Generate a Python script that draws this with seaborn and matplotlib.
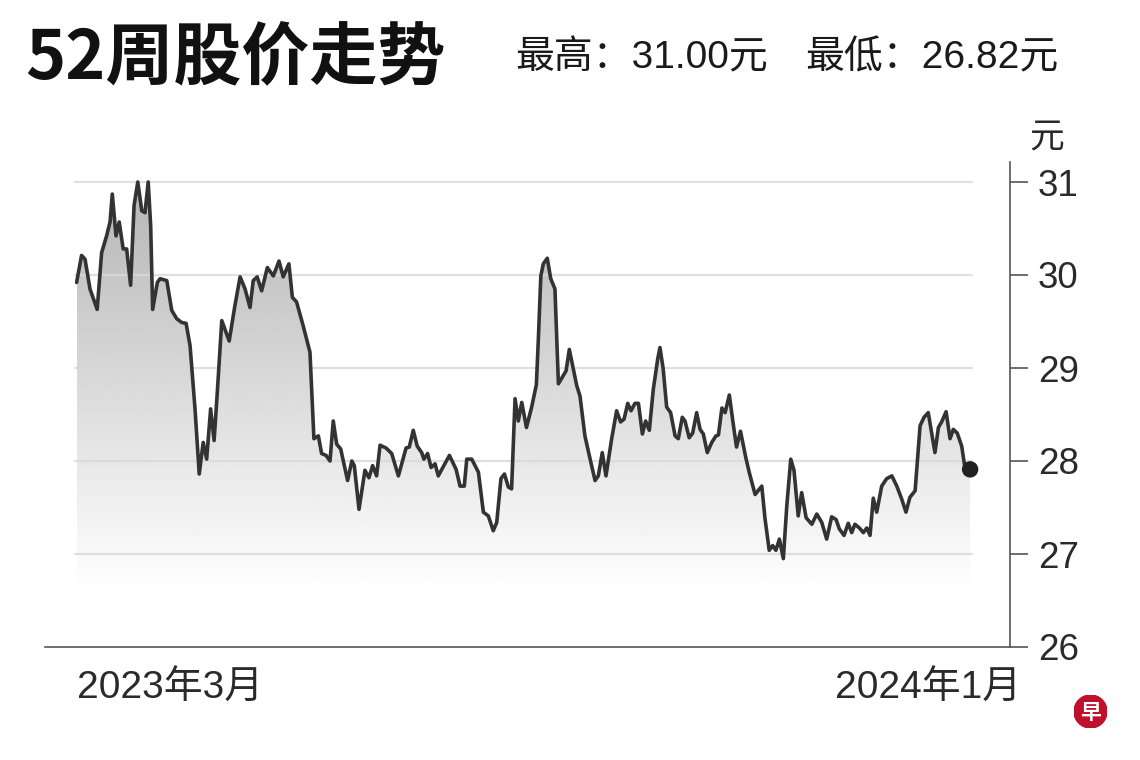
import numpy as np
import pandas as pd
import matplotlib
matplotlib.use("Agg")
import matplotlib.pyplot as plt
from matplotlib.patches import Circle
import seaborn as sns

# ---- data (days since 2023-01-01, closing price in 元) ----
days = [21.3, 23.3, 24.7, 26.7, 29.6, 31.4, 33.4, 34.8, 35.7, 37.2, 38.5, 40.1, 41.5, 43.1,
        44.5, 46.0, 47.6, 48.9, 50.2, 51.2, 52.0, 53.9, 55.0, 57.7, 59.7, 61.7, 63.7, 65.5,
        67.1, 69.1, 70.8, 72.4, 73.8, 75.4, 76.8, 78.1, 79.9, 82.9, 85.2, 87.3, 89.3, 91.3,
        92.6, 94.2, 96.0, 98.3, 100.7, 103.0, 104.7, 107.0, 108.4, 110.1, 112.8, 115.5,
        117.1, 118.9, 120.2, 122.0, 123.6, 124.9, 126.3, 127.9, 130.7, 132.4, 133.4, 135.3,
        137.7, 139.3, 140.8, 142.4, 143.8, 146.2, 148.5, 151.2, 154.3, 155.6, 157.2, 158.8,
        160.6, 161.5, 163.0, 164.4, 166.0, 167.3, 171.8, 174.5, 176.1, 177.8, 178.8, 180.8,
        183.5, 185.5, 187.5, 189.5, 190.9, 192.6, 194.0, 195.6, 196.9, 198.3, 199.6, 201.0,
        202.9, 205.0, 206.9, 207.7, 208.7, 209.7, 211.3, 212.7, 214.4, 215.8, 217.8, 218.9,
        220.2, 221.8, 223.2, 224.5, 226.5, 228.6, 230.6, 231.9, 233.5, 235.0, 237.3, 239.3,
        240.9, 242.3, 243.8, 245.1, 246.7, 248.1, 249.7, 251.0, 252.5, 254.1, 255.9, 256.8,
        258.1, 259.5, 261.1, 262.9, 264.2, 265.8, 266.9, 268.6, 270.0, 271.6, 273.0, 274.3,
        275.9, 277.7, 279.4, 280.4, 281.8, 283.1, 284.8, 286.2, 287.7, 289.3, 291.5, 292.9,
        295.2, 297.9, 299.2, 300.9, 302.3, 303.6, 305.0, 306.6, 308.0, 309.6, 310.9, 312.6,
        314.0, 315.8, 318.1, 320.1, 322.1, 324.1, 326.1, 327.9, 329.2, 331.1, 332.8, 334.2,
        335.5, 337.3, 338.9, 340.3, 341.6, 342.9, 344.3, 346.3, 348.3, 350.4, 352.4, 354.4,
        356.1, 357.7, 359.8, 361.8, 363.4, 365.1, 367.8, 369.2, 370.5, 372.3, 373.9, 375.2,
        376.8, 378.6, 379.9, 382.0]
prices = [29.92, 30.21, 30.17, 29.85, 29.63, 30.24, 30.42, 30.57, 30.87, 30.42, 30.57, 30.28,
          30.28, 29.89, 30.75, 31.00, 30.69, 30.67, 31.00, 30.53, 29.63, 29.92, 29.96, 29.94,
          29.62, 29.53, 29.49, 29.48, 29.24, 28.56, 27.86, 28.20, 28.02, 28.56, 28.22, 28.74,
          29.51, 29.29, 29.67, 29.98, 29.85, 29.65, 29.94, 29.98, 29.83, 30.08, 29.99, 30.15,
          29.98, 30.12, 29.76, 29.71, 29.45, 29.17, 28.24, 28.27, 28.08, 28.06, 28.00, 28.43,
          28.18, 28.13, 27.79, 28.00, 27.95, 27.48, 27.90, 27.82, 27.95, 27.84, 28.17, 28.14,
          28.08, 27.84, 28.14, 28.15, 28.33, 28.16, 28.09, 28.02, 28.08, 27.93, 27.97, 27.84,
          28.06, 27.91, 27.73, 27.73, 28.02, 28.02, 27.88, 27.45, 27.41, 27.25, 27.34, 27.81,
          27.86, 27.72, 27.70, 28.67, 28.43, 28.63, 28.36, 28.58, 28.82, 29.31, 29.99, 30.12,
          30.18, 29.96, 29.85, 28.83, 28.92, 28.97, 29.20, 28.99, 28.81, 28.70, 28.27, 28.02,
          27.79, 27.84, 28.09, 27.84, 28.24, 28.54, 28.42, 28.45, 28.62, 28.54, 28.62, 28.62,
          28.29, 28.43, 28.33, 28.77, 29.10, 29.22, 28.99, 28.58, 28.52, 28.27, 28.24, 28.47,
          28.43, 28.25, 28.30, 28.52, 28.34, 28.29, 28.09, 28.20, 28.27, 28.28, 28.57, 28.52,
          28.71, 28.43, 28.15, 28.32, 28.03, 27.87, 27.64, 27.73, 27.38, 27.04, 27.09, 27.04,
          27.16, 26.95, 27.52, 28.02, 27.90, 27.41, 27.66, 27.39, 27.32, 27.43, 27.34, 27.16,
          27.40, 27.37, 27.27, 27.20, 27.33, 27.23, 27.32, 27.28, 27.23, 27.28, 27.20, 27.60,
          27.45, 27.73, 27.81, 27.84, 27.73, 27.59, 27.45, 27.61, 27.68, 28.38, 28.47, 28.52,
          28.09, 28.36, 28.42, 28.53, 28.24, 28.34, 28.30, 28.16, 27.93, 27.91]
y_ticks = [26, 27, 28, 29, 30, 31]
grid_levels = [27, 28, 29, 30, 31]
x_tick_dates = ["2023-03-01", "2024-01-01"]
x_tick_labels = ["2023年3月", "2024年1月"]
title = "52周股价走势"
high_text = "最高：31.00元"
low_text = "最低：26.82元"
unit = "元"

sns.set_style("white")
plt.rcParams["font.family"] = ["Liberation Sans", "Noto Sans CJK SC"]

W, H = 1140, 760
fig = plt.figure(figsize=(W / 100, H / 100), dpi=100)
ax = fig.add_axes([45 / W, 1 - 647 / H, 965 / W, (647 - 162) / H])

df = pd.DataFrame({"day": days, "price": prices})
base = pd.Timestamp("2023-01-01")
x_ticks = [(pd.Timestamp(d) - base).days for d in x_tick_dates]

ymin, ymax = 26, 26 + (647 - 162) / 93
xmin, xmax = 8.54, 398.1

# gradient fill under the line
poly = ax.fill_between(df["day"], df["price"], ymin, facecolor="none", edgecolor="none")
yy = np.linspace(ymin, ymax, 300)
shade = np.clip(0.71 + 0.066 * (31 - yy), 0, 1)
grad = np.tile(shade[:, None], (1, 2))
img = ax.imshow(grad, extent=[df["day"].iloc[0], df["day"].iloc[-1], ymin, ymax],
                origin="lower", aspect="auto", cmap="gray", vmin=0, vmax=1, zorder=1)
img.set_clip_path(poly.get_paths()[0], transform=ax.transData)

for g in grid_levels:
    ax.axhline(g, xmin=0.031, xmax=0.961, color="#d8d8d8", lw=1.6, alpha=0.8, zorder=2)

sns.lineplot(data=df, x="day", y="price", ax=ax, color="#333333", lw=2.6, zorder=5)
sns.scatterplot(data=df.tail(1), x="day", y="price", ax=ax, color="#222222", s=140,
                edgecolor="none", zorder=6)

ax.set_xlim(xmin, xmax)
ax.set_ylim(ymin, ymax)
ax.set_xlabel("")
ax.set_ylabel("")

for s in ["left", "top"]:
    ax.spines[s].set_visible(False)
for s in ["right", "bottom"]:
    ax.spines[s].set_visible(True)
    ax.spines[s].set_color("#555555")
    ax.spines[s].set_linewidth(1.2)

ax.yaxis.tick_right()
ax.set_yticks(y_ticks)
ax.set_yticklabels([str(t) for t in y_ticks])
ax.set_xticks(x_ticks)
ax.set_xticklabels(x_tick_labels)
ax.tick_params(axis="y", direction="out", length=13, width=1.2, color="#555555", pad=7,
               labelsize=26.5, labelcolor="#2a2a2a", left=False, right=True)
ax.tick_params(axis="x", direction="out", length=13, width=1.2, color="#555555", pad=4,
               labelsize=28, labelcolor="#2a2a2a")
ax.grid(False)

fig.text(1047 / W, 1 - 138 / H, unit, fontsize=25, ha="center", va="center", color="#2a2a2a")

fig.text(25 / W, 1 - 60 / H, title, fontsize=49, fontweight="heavy", ha="left", va="center",
         color="#111111", family=["Noto Sans CJK SC"])
fig.text(515 / W, 1 - 58 / H, high_text, fontsize=28, ha="left", va="center", color="#1a1a1a")
fig.text(805 / W, 1 - 58 / H, low_text, fontsize=28, ha="left", va="center", color="#1a1a1a")

# logo
lax = fig.add_axes([1074 / W, 1 - 728 / H, 33 / W, 33 / H])
lax.set_xlim(0, 1)
lax.set_ylim(0, 1)
lax.axis("off")
lax.add_patch(Circle((0.5, 0.5), 0.5, color="#c0102c"))
lax.text(0.5, 0.47, "早", color="white", fontsize=15, fontweight="bold", ha="center",
         va="center", family=["Noto Sans CJK SC"])

fig.savefig("out.png", dpi=100)
